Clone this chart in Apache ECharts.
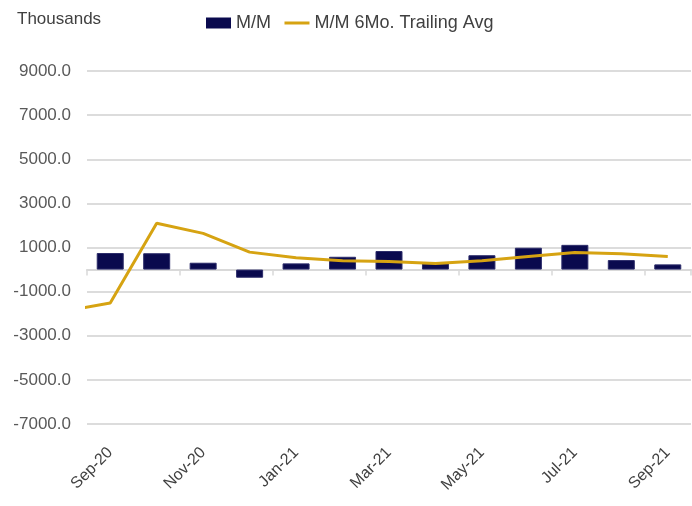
<!DOCTYPE html>
<html>
<head>
<meta charset="utf-8">
<script src="https://cdn.jsdelivr.net/npm/echarts@6/dist/echarts.min.js"></script>
<style>
  html, body { margin: 0; padding: 0; background: #fff; }
  #chart { width: 692px; height: 506px; }
</style>
</head>
<body>
<div id="chart"></div>
<script>
// months on the category axis
var months = ["Sep-20", "Oct-20", "Nov-20", "Dec-20", "Jan-21", "Feb-21", "Mar-21",
  "Apr-21", "May-21", "Jun-21", "Jul-21", "Aug-21", "Sep-21"];
// month-over-month change, thousands
var mmValues = [750, 740, 310, -370, 280, 580, 840, 280, 650, 990, 1120, 430, 235];
// 6 month trailing average, starts one month earlier (Aug-20), clipped at the left edge
var avgMonths = ["Aug-20", "Sep-20", "Oct-20", "Nov-20", "Dec-20", "Jan-21", "Feb-21", "Mar-21",
  "Apr-21", "May-21", "Jun-21", "Jul-21", "Aug-21", "Sep-21"];
var avgValues = [-1880, -1520, 2100, 1640, 790, 540, 400, 360, 280, 400, 590, 770, 720, 590];
var yTicks = { min: -7000, max: 9000, step: 2000 };

var FONT = "Liberation Sans";

var myChart = echarts.init(document.getElementById("chart"));

// line points: position relative to Sep-20 (index 0)
var avgPoints = [];
for (var i = 0; i < avgValues.length; i++) {
  avgPoints.push([i - 1, avgValues[i]]);
}

var option = {
  animation: false,
  title: {
    text: "Thousands",
    left: 12,
    top: 6,
    textStyle: { fontFamily: FONT, fontSize: 17, fontWeight: "normal", color: "#404040" }
  },
  legend: {
    left: 201,
    top: 9,
    itemWidth: 25,
    itemHeight: 11,
    itemGap: 12,
    textStyle: { fontFamily: FONT, fontSize: 18, color: "#404040" },
    data: [
      { name: "M/M", icon: "rect", itemStyle: { borderWidth: 0 } },
      // hide the symbol dot, keep only the line
      { name: "M/M 6Mo. Trailing Avg", itemStyle: { opacity: 0 }, lineStyle: { width: 3 } }
    ]
  },
  grid: { left: 87, right: 1, top: 71, bottom: 82 },
  xAxis: [
    {
      type: "category",
      data: months,
      position: "bottom",
      axisLine: { show: false, onZero: false },
      axisTick: { show: false },
      splitLine: { show: false },
      axisLabel: {
        interval: 1,
        rotate: 45,
        margin: 26,
        fontFamily: FONT,
        fontSize: 16,
        color: "#404040"
      }
    },
    {
      // hidden value axis: carries the zero line, its ticks and the trailing avg line
      type: "value",
      min: -0.5,
      max: 12.5,
      interval: 2,
      position: "bottom",
      axisLine: { show: true, onZero: true, lineStyle: { color: "#d9d9d9", width: 2 } },
      axisTick: { show: true, length: 6, lineStyle: { color: "#d9d9d9", width: 1.5 } },
      axisLabel: { show: false },
      splitLine: { show: false }
    }
  ],
  yAxis: {
    type: "value",
    min: yTicks.min,
    max: yTicks.max,
    interval: yTicks.step,
    axisLine: { show: false },
    axisTick: { show: false },
    splitLine: { lineStyle: { color: "#dcdcdc", width: 2 } },
    axisLabel: {
      margin: 16,
      fontFamily: FONT,
      fontSize: 17,
      color: "#595959",
      formatter: function (v) { return v.toFixed(1); }
    }
  },
  series: [
    {
      name: "M/M",
      type: "bar",
      xAxisIndex: 0,
      barWidth: 27,
      itemStyle: { color: "#0a0a4e", borderColor: "#2c2c6a", borderWidth: 1 },
      data: mmValues,
      z: 2
    },
    {
      name: "M/M 6Mo. Trailing Avg",
      type: "line",
      xAxisIndex: 1,
      symbol: "none",
      clip: true,
      lineStyle: { color: "#d6a312", width: 3 },
      itemStyle: { color: "#d6a312" },
      data: avgPoints,
      z: 3
    }
  ]
};

myChart.setOption(option);
window.onresize = function () {
  myChart.resize();
};
</script>
</body>
</html>
